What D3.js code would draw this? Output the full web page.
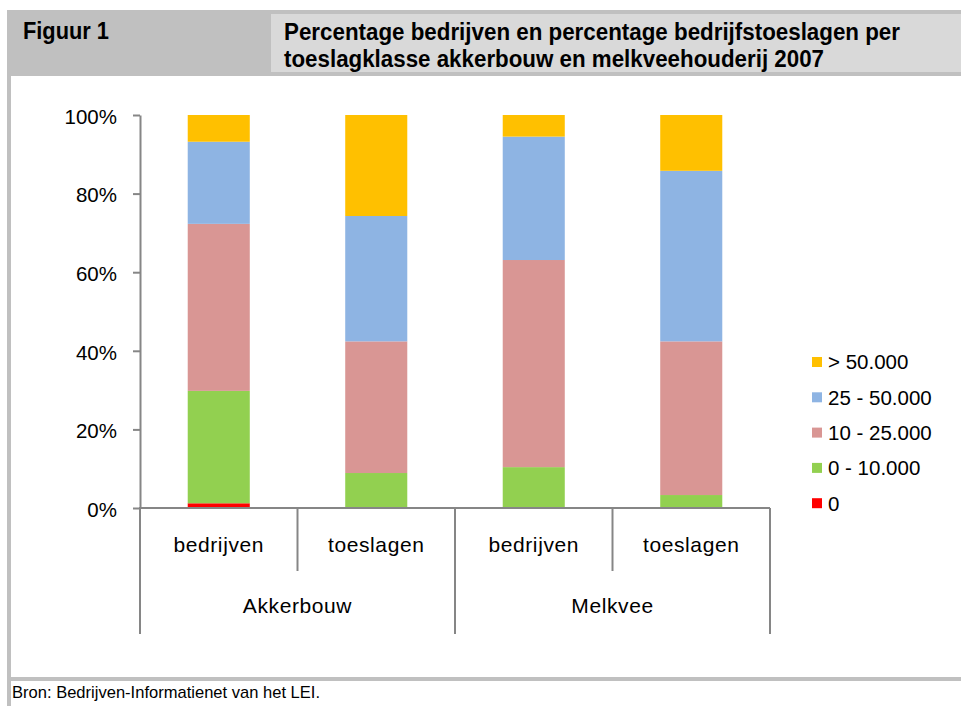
<!DOCTYPE html>
<html><head><meta charset="utf-8">
<script src="https://cdn.jsdelivr.net/npm/d3@7"></script>
<style>
html,body{margin:0;padding:0;background:#fff;}
svg{display:block;}
text{font-family:"Liberation Sans",Arial,sans-serif;}
</style></head>
<body>
<svg id="c" width="961" height="706"></svg>
<script>
// ---- data ----
const groups = ["Akkerbouw", "Melkvee"];
const subCategories = ["bedrijven", "toeslagen"];
const bars = ["Akkerbouw-bedrijven", "Akkerbouw-toeslagen", "Melkvee-bedrijven", "Melkvee-toeslagen"];
const seriesNames = ["0", "0 - 10.000", "10 - 25.000", "25 - 50.000", "> 50.000"];
const s0 = [1.2, 0, 0, 0];
const s0_10 = [28.6, 8.9, 10.4, 3.3];
const s10_25 = [42.5, 33.5, 52.7, 39.1];
const s25_50 = [20.9, 31.9, 31.4, 43.4];
const s50 = [6.8, 25.7, 5.5, 14.2];
const yTicks = [0, 20, 40, 60, 80, 100];
const seriesColors = ["#FF0000", "#92D050", "#D99694", "#8EB4E3", "#FFC000"];
const figLabel = "Figuur 1";
const titleLines = ["Percentage bedrijven en percentage bedrijfstoeslagen per",
                    "toeslagklasse akkerbouw en melkveehouderij 2007"];
const source = "Bron: Bedrijven-Informatienet van het LEI.";

const seriesValues = [s0, s0_10, s10_25, s25_50, s50];
const table = bars.map((b, i) => {
  const row = {bar: b};
  seriesNames.forEach((n, k) => row[n] = seriesValues[k][i]);
  return row;
});

const svg = d3.select("#c");
svg.append("rect").attr("width", 961).attr("height", 706).attr("fill", "#fff");

// ---- frame / header ----
const frameGray = "#c0c0c0";
svg.append("rect").attr("x", 7).attr("y", 10).attr("width", 954).attr("height", 66).attr("fill", frameGray);
svg.append("rect").attr("x", 271).attr("y", 14).attr("width", 690).attr("height", 58).attr("fill", "#d9d9d9");
svg.append("rect").attr("x", 7).attr("y", 76).attr("width", 4).attr("height", 630).attr("fill", frameGray);
svg.append("rect").attr("x", 7).attr("y", 677).attr("width", 954).attr("height", 4).attr("fill", frameGray);

svg.append("text").attr("x", 23).attr("y", 38.5).attr("font-size", 23).attr("font-weight", "bold")
  .attr("textLength", 86).attr("lengthAdjust", "spacingAndGlyphs").text(figLabel);
const tl = [616, 540];
titleLines.forEach((t, i) => {
  svg.append("text").attr("x", 284).attr("y", 40 + i * 27).attr("font-size", 23).attr("font-weight", "bold")
    .attr("textLength", tl[i]).attr("lengthAdjust", "spacingAndGlyphs").text(t);
});
svg.append("text").attr("x", 12).attr("y", 698).attr("font-size", 17)
  .attr("textLength", 308).attr("lengthAdjust", "spacingAndGlyphs").text(source);

// ---- scales ----
const x = d3.scaleBand().domain(bars).range([140, 770]).paddingInner(0.606).paddingOuter(0.303);
const y = d3.scaleLinear().domain([0, 100]).range([508, 115]);
const color = d3.scaleOrdinal().domain(seriesNames).range(seriesColors);

const axisGray = "#868686";

// ---- bars ----
const stack = d3.stack().keys(seriesNames)(table);
svg.append("g").selectAll("g").data(stack).join("g")
  .attr("fill", d => color(d.key))
  .selectAll("rect").data(d => d).join("rect")
  .attr("x", d => x(d.data.bar))
  .attr("width", x.bandwidth())
  .attr("y", d => y(d[1]))
  .attr("height", d => Math.max(0, y(d[0]) - y(d[1])));

// ---- y axis ----
const yAxis = svg.append("g").attr("transform", "translate(140,0)")
  .call(d3.axisLeft(y).tickValues(yTicks).tickFormat(d => d + "%").tickSize(7).tickSizeOuter(0).tickPadding(16));
yAxis.select(".domain").attr("stroke", axisGray).attr("stroke-width", 2);
yAxis.selectAll(".tick line").attr("stroke", axisGray).attr("stroke-width", 2);
yAxis.selectAll(".tick text").attr("font-size", 20.5).attr("fill", "#000").attr("font-family", "Liberation Sans, Arial, sans-serif").attr("dy", "0.4em");

// ---- x axis (multi-level) ----
const xg = svg.append("g");
xg.append("line").attr("x1", 139).attr("x2", 770).attr("y1", 508).attr("y2", 508)
  .attr("stroke", axisGray).attr("stroke-width", 2);
const step = x.step();
const x0 = x.range()[0];
d3.range(bars.length + 1).forEach(i => {
  const bx = x0 + i * step;
  const groupEdge = (i % subCategories.length === 0);
  xg.append("line").attr("x1", bx).attr("x2", bx).attr("y1", 508).attr("y2", groupEdge ? 634 : 571)
    .attr("stroke", axisGray).attr("stroke-width", 2);
});
xg.selectAll("text.sub").data(bars).join("text").attr("class", "sub")
  .attr("x", d => x(d) + x.bandwidth() / 2).attr("y", 552)
  .attr("text-anchor", "middle").attr("font-size", 21).attr("letter-spacing", 0.6)
  .text((d, i) => subCategories[i % subCategories.length]);
xg.selectAll("text.grp").data(groups).join("text").attr("class", "grp")
  .attr("x", (d, i) => x0 + (i + 0.5) * step * subCategories.length).attr("y", 613)
  .attr("text-anchor", "middle").attr("font-size", 21).attr("letter-spacing", 0.6)
  .text(d => d);

// ---- legend ----
const legendOrder = seriesNames.slice().reverse();
const lg = svg.append("g").selectAll("g").data(legendOrder).join("g")
  .attr("transform", (d, i) => `translate(812,${362 + i * 35.3})`);
lg.append("rect").attr("x", 0).attr("y", -5).attr("width", 10).attr("height", 10).attr("fill", d => color(d));
lg.append("text").attr("x", 16).attr("y", 0).attr("dy", "0.36em").attr("font-size", 20.5).text(d => d);
</script>
</body></html>
